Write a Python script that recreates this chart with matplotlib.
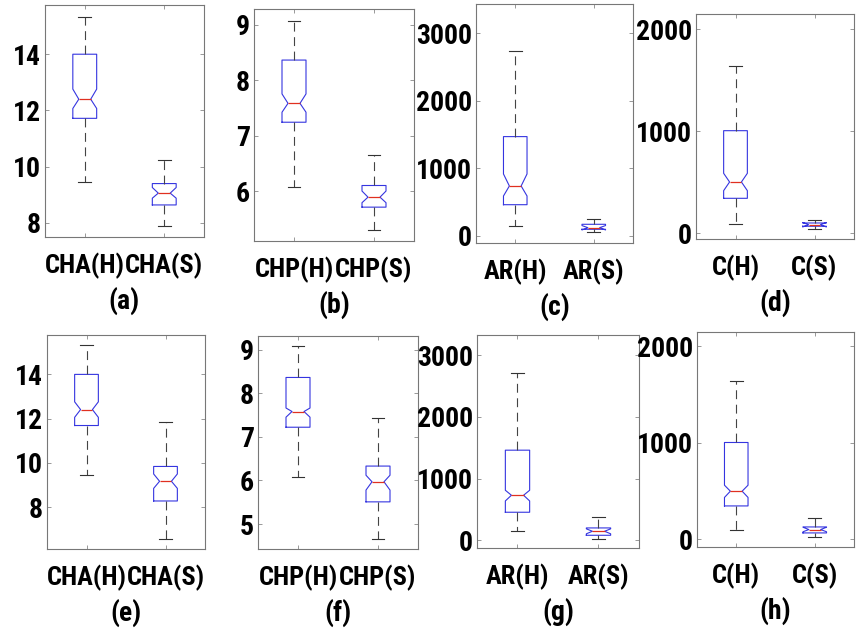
"""Notched box plots, 2x4 panels: hard (H) vs soft (S) feature distributions."""
import matplotlib
matplotlib.use("Agg")
import matplotlib.pyplot as plt
from matplotlib import font_manager

# --- data (per panel: [H, S]) ---
panel_letters = ["a", "b", "c", "d", "e", "f", "g", "h"]
panel_names = [["CHA(H)", "CHA(S)"], ["CHP(H)", "CHP(S)"], ["AR(H)", "AR(S)"], ["C(H)", "C(S)"],
               ["CHA(H)", "CHA(S)"], ["CHP(H)", "CHP(S)"], ["AR(H)", "AR(S)"], ["C(H)", "C(S)"]]
whislo = [[9.45, 7.89], [6.07, 5.29], [148, 59], [94, 45],
          [9.44, 6.55], [6.08, 4.65], [146, 27], [101, 24]]
q1 = [[11.72, 8.64], [7.24, 5.71], [459, 95], [343, 69],
      [11.69, 8.28], [7.22, 5.51], [454, 81], [346, 66]]
med = [[12.40, 9.06], [7.58, 5.89], [736, 119], [503, 84],
       [12.41, 9.17], [7.58, 5.97], [729, 146], [499, 101]]
q3 = [[14.00, 9.40], [8.36, 6.10], [1467, 169], [1006, 101],
      [14.00, 9.84], [8.36, 6.33], [1459, 200], [1004, 128]]
whishi = [[15.32, 10.24], [9.065, 6.65], [2728, 247], [1640, 127],
          [15.34, 11.87], [9.08, 7.44], [2713, 373], [1640, 218]]
ci_lo = [[12.07, 8.88], [7.42, 5.79], [588, 85], [418, 62],
         [12.06, 8.85], [7.45, 5.78], [637, 105], [434, 78]]
ci_hi = [[12.76, 9.26], [7.75, 6.00], [914, 150], [588, 106],
         [12.76, 9.50], [7.66, 6.12], [810, 185], [561, 125]]
y_limits = [(7.5, 15.75), (5.1, 9.28), (-108, 3430), (-56, 2150),
            (6.11, 15.78), (4.43, 9.31), (-125, 3324), (-80, 2150)]
y_ticks = [[8, 10, 12, 14], [6, 7, 8, 9], [0, 1000, 2000, 3000], [0, 1000, 2000],
           [8, 10, 12, 14], [5, 6, 7, 8, 9], [0, 1000, 2000, 3000], [0, 1000, 2000]]

# axes boxes in pixels: left, top, right, bottom
axes_px = [(45, 5, 204, 237), (254, 9, 414, 241), (476, 4, 633, 243), (696, 14, 854, 239),
           (47, 335, 205, 549), (258, 336, 418, 549), (477, 335, 639, 548), (697, 332, 854, 547)]

W, H = 856, 634
installed = {f.name for f in font_manager.fontManager.ttflist}
narrow = next((n for n in ["Roboto Condensed", "Archivo Narrow", "Barlow Semi Condensed", "Asap Condensed"]
               if n in installed), None)
if narrow:
    plt.rcParams["font.family"] = [narrow, "DejaVu Sans"]
else:
    plt.rcParams["font.family"] = ["DejaVu Sans"]
    plt.rcParams["font.stretch"] = "condensed"

fig = plt.figure(figsize=(W / 100, H / 100), dpi=100)

for i in range(8):
    l, t, r, b = axes_px[i]
    ax = fig.add_axes([l / W, 1 - b / H, (r - l) / W, (b - t) / H])
    stats = []
    for j in range(2):
        stats.append(dict(label=panel_names[i][j], med=med[i][j], q1=q1[i][j], q3=q3[i][j],
                          whislo=whislo[i][j], whishi=whishi[i][j],
                          cilo=ci_lo[i][j], cihi=ci_hi[i][j], fliers=[]))
    ax.bxp(stats, positions=[1, 2], widths=0.3, capwidths=0.16, shownotches=True,
           boxprops=dict(color="#3535e0", lw=0.8),
           medianprops=dict(color="#e03020", lw=0.9),
           whiskerprops=dict(color="#444444", lw=0.8, ls=(0, (8, 5))),
           capprops=dict(color="#333333", lw=0.8))
    ax.set_xlim(0.5, 2.5)
    ax.set_ylim(*y_limits[i])
    ax.set_yticks(y_ticks[i])
    ax.set_yticklabels([str(v) for v in y_ticks[i]], fontsize=20, fontweight="bold")
    ax.set_xticklabels(panel_names[i], fontsize=19, fontweight="bold")
    ax.tick_params(direction="in", top=True, right=True, length=3, color="#888888", width=0.6)
    ax.tick_params(axis="x", pad=11)
    ax.tick_params(axis="y", pad=3)
    for s in ax.spines.values():
        s.set_color("#777777")
        s.set_linewidth(0.8)
    fig.text((l + r) / 2 / W, 1 - (b + 64) / H, f"({panel_letters[i]})",
             ha="center", va="center", fontsize=20, fontweight="bold")

fig.savefig("out.png", dpi=100)
